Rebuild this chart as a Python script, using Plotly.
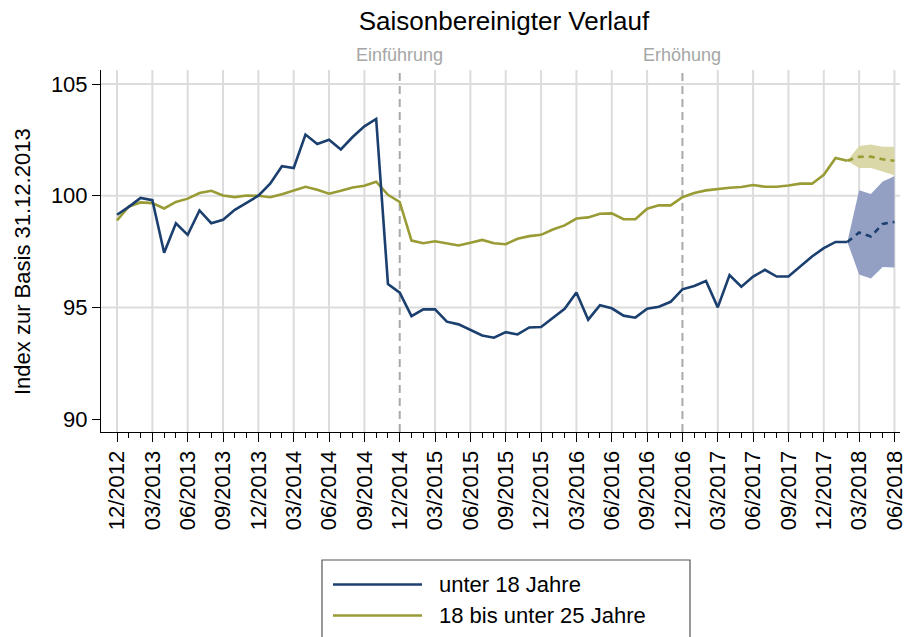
import plotly.graph_objects as go

# ---------------- data ----------------
quarter_labels = ["12/2012", "03/2013", "06/2013", "09/2013", "12/2013", "03/2014",
                  "06/2014", "09/2014", "12/2014", "03/2015", "06/2015", "09/2015",
                  "12/2015", "03/2016", "06/2016", "09/2016", "12/2016", "03/2017",
                  "06/2017", "09/2017", "12/2017", "03/2018", "06/2018"]
quarter_pos = [0, 3, 6, 9, 12, 15, 18, 21, 24, 27, 30, 33, 36, 39, 42, 45, 48, 51,
               54, 57, 60, 63, 66]  # month index (0 = 12/2012)
month_pos = list(range(0, 67))              # every month 12/2012 .. 06/2018

months_observed = list(range(0, 63))        # 12/2012 .. 02/2018
months_forecast = [62, 63, 64, 65, 66]      # 02/2018 .. 06/2018

under18 = [99.15, 99.50, 99.90, 99.80, 97.45, 98.77, 98.25, 99.34, 98.77, 98.92,
           99.37, 99.70, 100.00, 100.54, 101.32, 101.24, 102.74, 102.32, 102.51, 102.07,
           102.63, 103.11, 103.44, 96.05, 95.66, 94.61, 94.91, 94.91, 94.36, 94.24,
           93.98, 93.74, 93.64, 93.89, 93.79, 94.10, 94.12, 94.54, 94.94, 95.67,
           94.45, 95.10, 94.96, 94.63, 94.54, 94.94, 95.03, 95.25, 95.81, 95.96,
           96.18, 95.00, 96.45, 95.93, 96.38, 96.68, 96.38, 96.38, 96.83, 97.28,
           97.65, 97.93, 97.93]
age18_25 = [98.90, 99.52, 99.70, 99.67, 99.43, 99.72, 99.87, 100.12, 100.22, 100.01,
            99.94, 100.01, 100.00, 99.93, 100.07, 100.22, 100.40, 100.27, 100.09, 100.22,
            100.37, 100.45, 100.63, 100.04, 99.72, 97.99, 97.87, 97.96, 97.86, 97.77,
            97.89, 98.02, 97.87, 97.83, 98.07, 98.19, 98.25, 98.49, 98.67, 98.98,
            99.03, 99.19, 99.21, 98.95, 98.95, 99.42, 99.57, 99.57, 99.93, 100.12,
            100.24, 100.31, 100.36, 100.39, 100.48, 100.40, 100.40, 100.46, 100.54, 100.54,
            100.94, 101.69, 101.57]

under18_fc = [97.93, 98.35, 98.17, 98.74, 98.83]
under18_hi = [97.93, 100.25, 100.08, 100.64, 100.87]
under18_lo = [97.93, 96.47, 96.29, 96.81, 96.79]
age18_25_fc = [101.57, 101.74, 101.75, 101.63, 101.57]
age18_25_hi = [101.57, 102.23, 102.29, 102.19, 102.19]
age18_25_lo = [101.57, 101.24, 101.24, 101.09, 100.92]

series_names = ["unter 18 Jahre", "18 bis unter 25 Jahre"]
events = [(24, "Einführung"), (48, "Erhöhung")]
y_ticks = [90, 95, 100, 105]
y_grid = [95, 100, 105]

# ---------------- style ----------------
FONT = "Liberation Sans, Arial, Helvetica, sans-serif"
BLUE = "#1b3f6e"
GREEN = "#999b35"
BLUE_BAND = "#93a0c4"
GREEN_BAND = "#dad8a8"
GRID = "#dcdcdc"

# plot area in pixels
W, H = 906, 637
L, R, T, B = 101, 900, 70, 432
pw, ph = R - L, B - T


def px_x(px):
    return (px - L) / pw


def px_y(py):
    return (B - py) / ph


fig = go.Figure()

# bands
for hi, lo, col in [(under18_hi, under18_lo, BLUE_BAND), (age18_25_hi, age18_25_lo, GREEN_BAND)]:
    fig.add_trace(go.Scatter(
        x=months_forecast + months_forecast[::-1],
        y=hi + lo[::-1],
        fill="toself", fillcolor=col, mode="lines",
        line=dict(width=0, color=col), hoverinfo="skip", showlegend=False))

# observed lines
fig.add_trace(go.Scatter(x=months_observed, y=age18_25, mode="lines",
                         line=dict(color=GREEN, width=2.6), name=series_names[1],
                         showlegend=False))
fig.add_trace(go.Scatter(x=months_observed, y=under18, mode="lines",
                         line=dict(color=BLUE, width=2.6), name=series_names[0],
                         showlegend=False))
# forecast lines
fig.add_trace(go.Scatter(x=months_forecast, y=age18_25_fc, mode="lines",
                         line=dict(color=GREEN, width=2.6, dash="6px,5px"),
                         showlegend=False))
fig.add_trace(go.Scatter(x=months_forecast, y=under18_fc, mode="lines",
                         line=dict(color=BLUE, width=2.6, dash="6px,5px"),
                         showlegend=False))

shapes = []
# vertical grid lines
event_pos = [e[0] for e in events]
for q in quarter_pos:
    if q in event_pos:
        continue
    shapes.append(dict(type="line", xref="x", yref="paper", x0=q, x1=q, y0=0, y1=1,
                       line=dict(color=GRID, width=2), layer="below"))
# horizontal grid lines
for v in y_grid:
    shapes.append(dict(type="line", xref="paper", yref="y", x0=0, x1=1, y0=v, y1=v,
                       line=dict(color=GRID, width=2), layer="below"))
# event lines
for pos, _ in events:
    shapes.append(dict(type="line", xref="x", yref="paper", x0=pos, x1=pos, y0=0, y1=1,
                       line=dict(color="#a9a9a9", width=2, dash="8px,5px"), layer="below"))

annotations = []
for pos, txt in events:
    annotations.append(dict(x=pos, xref="x", y=px_y(55), yref="paper", text=txt,
                            showarrow=False, xanchor="center", yanchor="middle",
                            font=dict(family=FONT, size=18, color="#a6a6a6")))

# y axis title
annotations.append(dict(x=px_x(22), xref="paper", y=px_y(262), yref="paper",
                        text="Index zur Basis 31.12.2013", textangle=-90, showarrow=False,
                        xanchor="center", yanchor="middle",
                        font=dict(family=FONT, size=22, color="black")))

# manual legend
shapes.append(dict(type="rect", xref="paper", yref="paper",
                   x0=px_x(322), x1=px_x(690), y0=px_y(560), y1=px_y(660),
                   line=dict(color="#555555", width=1.2), fillcolor="white"))
for name, col, py in [(series_names[0], BLUE, 584.5), (series_names[1], GREEN, 615.5)]:
    shapes.append(dict(type="line", xref="paper", yref="paper",
                       x0=px_x(333), x1=px_x(422), y0=px_y(py), y1=px_y(py),
                       line=dict(color=col, width=2.6)))
    annotations.append(dict(x=px_x(437), xref="paper", y=px_y(py), yref="paper",
                            text=name, showarrow=False, xanchor="left", yanchor="middle",
                            font=dict(family=FONT, size=22, color="black")))

fig.update_layout(
    width=W, height=H,
    margin=dict(l=L, r=W - R, t=T, b=H - B, pad=0, autoexpand=False),
    paper_bgcolor="white", plot_bgcolor="white",
    font=dict(family=FONT, color="black"),
    title=dict(text="Saisonbereinigter Verlauf", x=504 / W, xref="container",
               xanchor="center", y=1 - 21 / H, yref="container", yanchor="middle",
               font=dict(family=FONT, size=26, color="black")),
    shapes=shapes, annotations=annotations,
    showlegend=False,
)

fig.update_xaxes(
    range=[-1.36, 66.47], showgrid=False, zeroline=False,
    tickmode="array", tickvals=quarter_pos, ticktext=quarter_labels, tickangle=-90,
    ticks="outside", ticklen=9, tickwidth=1, tickcolor="black",
    showline=True, linecolor="black", linewidth=1, automargin=False,
    ticklabeloverflow="allow",
    tickfont=dict(family=FONT, size=22, color="black"),
    minor=dict(tickmode="array", tickvals=month_pos, ticks="outside", ticklen=5,
               tickwidth=1, tickcolor="black", showgrid=False),
)
fig.update_yaxes(
    range=[89.42, 105.63], showgrid=False, zeroline=False,
    tickmode="array", tickvals=y_ticks, ticktext=[str(v) for v in y_ticks],
    ticks="outside", ticklen=8, tickwidth=1, tickcolor="black",
    showline=True, linecolor="black", linewidth=1, automargin=False,
    tickfont=dict(family=FONT, size=22, color="black"),
)

fig.write_html(
    "out.html",
    config={"displayModeBar": False},
    post_script="document.body.style.margin='0';document.body.style.padding='0';"
                "document.body.style.overflow='hidden';",
)
